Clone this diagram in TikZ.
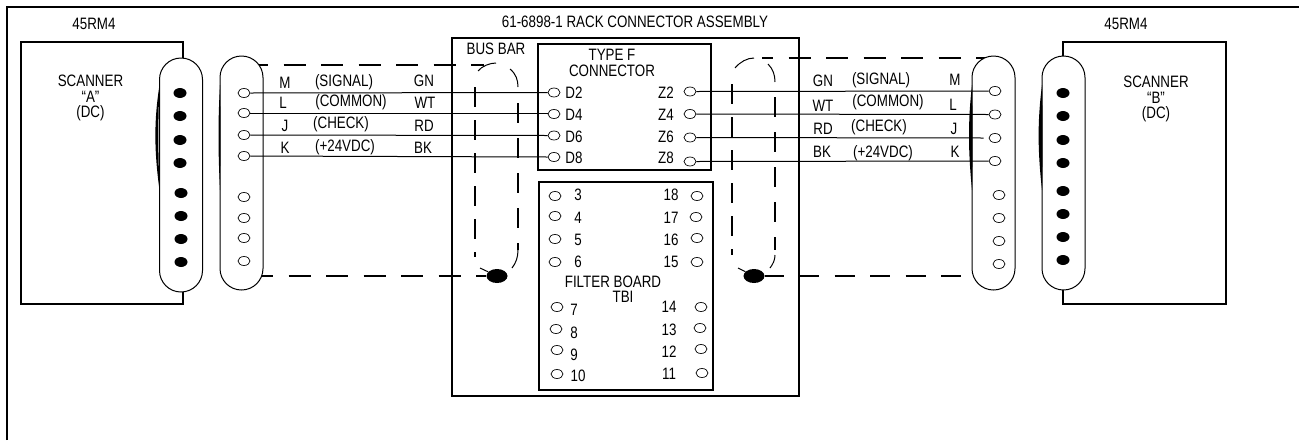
\documentclass[tikz,border=0pt]{standalone}
\usepackage{fontspec}
\setmainfont[FakeStretch=0.81]{Liberation Sans}
\usetikzlibrary{shapes.geometric}
\tikzset{
  lab/.style={inner sep=0pt,font=\fontsize{16.5}{15.5}\selectfont},
  lines/.style={lab,align=center},
  heavy/.style={line width=2pt,draw=black},
  wire/.style={line width=1pt,draw=black},
  pin/.style={ellipse,draw=black,line width=0.7pt,minimum width=12pt,minimum height=9pt,inner sep=0pt,fill=white},
  solidpin/.style={ellipse,fill=black,minimum width=13pt,minimum height=10pt,inner sep=0pt},
  blob/.style={ellipse,fill=black,minimum width=21pt,minimum height=14pt,inner sep=0pt},
  pill/.style={draw=black,line width=1pt,fill=white,rounded corners=21.5pt,minimum width=43pt,minimum height=234pt,inner sep=0pt},
  hdash/.style={line width=1.6pt,dash pattern=on 22pt off 15.5pt},
  vdash/.style={line width=1.6pt,dash pattern=on 20pt off 13pt},
  barc/.style={line width=1pt}
}
\begin{document}
\begin{tikzpicture}[x=1pt,y=-1pt]
\useasboundingbox (0,0) rectangle (1299,440);
% frame
\draw[heavy] (6.5,440) -- (6.5,6.5) -- (1299,6.5);
% boxes
\node[heavy,draw,minimum width=162pt,minimum height=262pt,inner sep=0pt] (scanA) at (102,173) {};
\node[heavy,draw,minimum width=163pt,minimum height=262pt,inner sep=0pt] (scanB) at (1144.5,173) {};
\node[heavy,draw,minimum width=347pt,minimum height=358pt,inner sep=0pt] (rack) at (625.5,217) {};
\node[heavy,draw,minimum width=173pt,minimum height=126pt,inner sep=0pt] (typeF) at (624.5,107) {};
\node[heavy,draw,minimum width=174pt,minimum height=208pt,inner sep=0pt] (filter) at (626,286) {};
% blobs and bus bar anchors
\node[blob] (blobL) at (497,276) {};
\node[blob] (blobR) at (754,276) {};
\coordinate (tL) at (484,65);
\coordinate (tR) at (762,58);
\coordinate (plugAc) at (241.5,173);
\coordinate (plugBc) at (993.5,173);
% dashed bus bars
\draw[hdash,dash phase=33pt] (plugAc |- tL) -- (tL);
\draw[hdash,dash phase=28pt] (plugAc |- blobL) -- (blobL);
\draw[hdash,dash phase=11pt] (tR) -- (plugBc |- tR);
\draw[hdash,dash pattern=on 20pt off 15.5pt,dash phase=1pt] (blobR) -- (plugBc |- blobR);
\draw[vdash] (475,87) -- (475,257);
\draw[vdash,dash pattern=on 20pt off 15pt] (518,103) -- (518,250);
\draw[vdash] (732,84) -- (732,255);
\draw[vdash,dash pattern=on 20pt off 15pt] (775,97) -- (775,250);
\draw[barc] (478,71) .. controls (482,66) and (490,63) .. (496,63);
\draw[barc] (510,69) .. controls (516,74) and (518,80) .. (518,87);
\draw[barc] (518,250) .. controls (518,257) and (516,263) .. (512,268);
\draw[barc] (480,268) -- (blobL);
\draw[barc] (735,68) .. controls (740,62) and (747,58) .. (754,58);
\draw[barc] (768,64) .. controls (773,69) and (775,75) .. (775,82);
\draw[barc] (775,255) .. controls (775,260) and (773,264) .. (770,268);
\draw[barc] (738,268) -- (blobR);
% pills
\node[pill] (sockA) at (181,175) {};
\node[pill] (plugA) at (241.5,173) {};
\node[pill] (plugB) at (993.5,173) {};
\node[pill] (sockB) at (1063.5,173) {};
% bowed edges of the pills
\fill (159.5,85) .. controls (154,120) and (154,150) .. (159.5,190) .. controls (158,150) and (158,120) .. cycle;
\fill (220,85) .. controls (218,120) and (218,150) .. (220,190) .. controls (220.5,150) and (220.5,120) .. cycle;
\fill (972,85) .. controls (968,120) and (968,150) .. (972,190) .. controls (972.5,150) and (972.5,120) .. cycle;
\fill (1042,85) .. controls (1037.5,120) and (1037.5,150) .. (1042,190) .. controls (1042.5,150) and (1042.5,120) .. cycle;
% pins
\foreach \n/\x/\y in {dA1/180/93,dA2/180/116,dA3/180/140,dA4/180/163,dA5/181/193,dA6/181/216,dA7/181/239,dA8/181/262,
  dB1/1063/93,dB2/1063/116,dB3/1063/140,dB4/1063/163,dB5/1063/191,dB6/1063/214,dB7/1063/237,dB8/1063/260}
  \node[solidpin] (\n) at (\x,\y) {};
\foreach \n/\x/\y in {pA1/244/93,pA2/244/113,pA3/244/135,pA4/244/156,pA5/244/197,pA6/244/218,pA7/244/238,pA8/244/261,
  pB1/995/91,pB2/995/114.5,pB3/995/138,pB4/995/161,pB5/999/195,pB6/999/218,pB7/999/241,pB8/999/264,
  d2/554/92.5,d4/554/114,d6/554/135.5,d8/554/157,
  z2/690/91.5,z4/690/114,z6/690/137.5,z8/690/161.5,
  f3/555/196,f4/555/216,f5/555/239,f6/555/262,f7/557/307,f8/556/329,f9/557/350,f10/557/374,
  f18/697/196,f17/696/217,f16/697/238,f15/697/262,f14/701/307,f13/700/328,f12/701/349,f11/702/373}
  \node[pin] (\n) at (\x,\y) {};
% wires
\draw[wire] (pA1.east) -- (d2.west);
\draw[wire] (pA2.east) -- (pA2.east -| d4.west);
\draw[wire] (pA3.east) -- (d6.west);
\draw[wire] (pA4.east) -- (d8.west);
\draw[wire] (z2.east) -- (pB1.west);
\draw[wire] (z4.east) -- (pB2.west);
\draw[wire] (z6.east) -- ([xshift=-5pt]pB3.west);
\draw[wire] (z8.east) -- (pB4.west);
% text
\node[lab] (t1) at (94,24) {45RM4};
\node[lab] (t2) at (1126,24) {45RM4};
\node[lab] (title) at (635,22) {61-6898-1 RACK CONNECTOR ASSEMBLY};
\node[lines] (sa) at (90.5,98) {SCANNER\\“A”\\(DC)};
\node[lines] (sb) at (1156,99) {SCANNER\\“B”\\(DC)};
\node[lab] (bus) at (496,49) {BUS BAR};
\node[lines] (tf) at (612,63) {TYPE F\\CONNECTOR};
\node[lab] (fb) at (613,282) {FILTER BOARD};
\node[lab] (tbi) at (623,297) {TBI};
\foreach \n/\t/\x/\y in {
  a1/M/285/83,a2/L/283/103,a3/J/285/126,a4/K/285/148,
  b1/(SIGNAL)/344/82,b2/(COMMON)/351/102,b3/(CHECK)/341/124,b4/(+24VDC)/345/147,
  c1/GN/424/81,c2/WT/425/103,c3/RD/424/126,c4/BK/423/148,
  e1/D2/574/93,e2/D4/574/115,e3/D6/574/137,e4/D8/574/158,
  g1/Z2/666/93,g2/Z4/666/115,g3/Z6/666/137,g4/Z8/666/158,
  h3/3/578/195,h4/4/578/218,h5/5/578/240,h6/6/578/262,
  h7/7/574/310,h8/8/574/333,h9/9/574/355,h10/10/578/376,
  h18/18/671/195,h17/17/671/218,h16/16/671/240,h15/15/671/262,
  h14/14/669/307,h13/13/669/330,h12/12/669/352,h11/11/669/374,
  i1/GN/823/81,i2/WT/823/106,i3/RD/823/129,i4/BK/822/152,
  j1/(SIGNAL)/881/80,j2/(COMMON)/888/102,j3/(CHECK)/879/127,j4/(+24VDC)/883/153,
  k1/M/955/80,k2/L/953/105,k3/J/954/129,k4/K/955/152}
  \node[lab] (\n) at (\x,\y) {\t};
\end{tikzpicture}
\end{document}
